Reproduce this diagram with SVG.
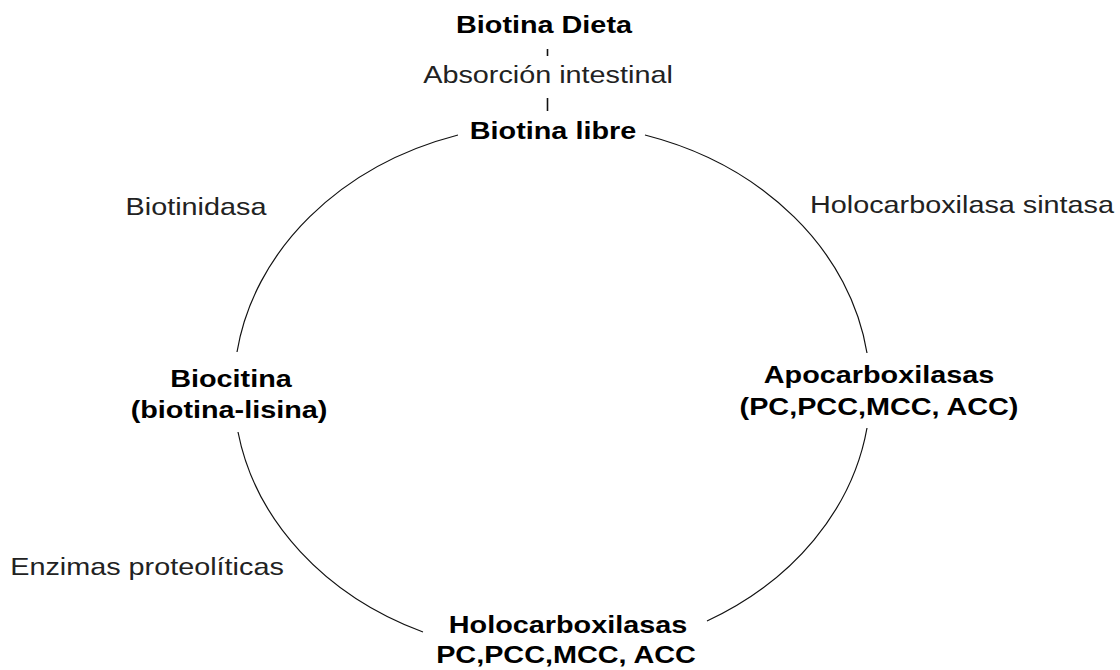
<svg xmlns="http://www.w3.org/2000/svg" width="1120" height="670" viewBox="0 0 1120 670">
<style>
.b{font-family:"Liberation Sans",Arial,sans-serif;font-weight:bold;font-size:24px;fill:#000;text-anchor:middle}
.r{font-family:"Liberation Sans",Arial,sans-serif;font-size:24px;fill:#222;text-anchor:middle}
.c{fill:none;stroke:#111;stroke-width:1.2}
.t{fill:none;stroke:#111;stroke-width:1.6}
</style>
<rect width="1120" height="670" fill="#fff"/>
<g id="connectors">
<line class="t" x1="547.5" y1="49" x2="547.5" y2="56"/>
<line class="t" x1="547.5" y1="98" x2="547.5" y2="111"/>
<path class="c" d="M458,135 A318,266 0 0 0 237,352"/>
<path class="c" d="M238,432 A318,266 0 0 0 423,632"/>
<path class="c" d="M707,621 A318,266 0 0 0 867,428"/>
<path class="c" d="M867,353 A318,266 0 0 0 645,135"/>
</g>
<g id="biotina-dieta"><text class="b" transform="translate(544,33) scale(1.2,1)">Biotina Dieta</text></g>
<g id="absorcion"><text class="r" transform="translate(548,83) scale(1.2,1)">Absorción intestinal</text></g>
<g id="biotina-libre"><text class="b" transform="translate(553,139) scale(1.2,1)">Biotina libre</text></g>
<g id="biotinidasa"><text class="r" transform="translate(196,215) scale(1.2,1)">Biotinidasa</text></g>
<g id="holocarboxilasa-sintasa"><text class="r" transform="translate(962,213) scale(1.2,1)">Holocarboxilasa sintasa</text></g>
<g id="biocitina">
<text class="b" transform="translate(231,387) scale(1.2,1)">Biocitina</text>
<text class="b" transform="translate(229,418) scale(1.2,1)">(biotina-lisina)</text>
</g>
<g id="apocarboxilasas">
<text class="b" transform="translate(879,383) scale(1.2,1)">Apocarboxilasas</text>
<text class="b" transform="translate(879,415) scale(1.2,1)">(PC,PCC,MCC, ACC)</text>
</g>
<g id="holocarboxilasas">
<text class="b" transform="translate(568,633) scale(1.2,1)">Holocarboxilasas</text>
<text class="b" transform="translate(566,663) scale(1.2,1)">PC,PCC,MCC, ACC</text>
</g>
<g id="enzimas"><text class="r" transform="translate(147,575) scale(1.2,1)">Enzimas proteolíticas</text></g>
</svg>
